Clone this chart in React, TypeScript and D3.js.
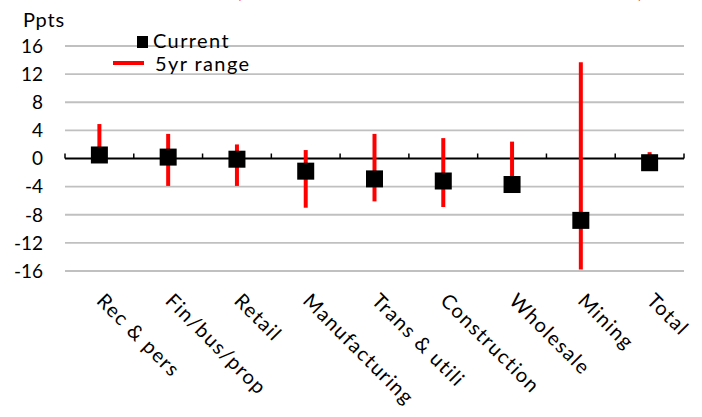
import React from "react";
import * as d3 from "d3";

const categories = ["Rec & pers", "Fin/bus/prop", "Retail", "Manufacturing", "Trans & utili", "Construction", "Wholesale", "Mining", "Total"];
const current = [0.5, 0.2, -0.1, -1.8, -2.9, -3.2, -3.7, -8.8, -0.6];
const rangeMax = [4.9, 3.5, 2.0, 1.2, 3.5, 2.9, 2.4, 13.7, 0.9];
const rangeMin = [0.0, -3.9, -3.9, -7.0, -6.1, -6.9, -4.5, -15.8, -1.0];
const yTicks = [16, 12, 8, 4, 0, -4, -8, -12, -16];

const W = 702, H = 417;
const FONT = "Lato, 'Open Sans', sans-serif";

export default function App() {
  const x = d3.scaleBand<string>().domain(categories).range([65, 684]);
  const y = d3.scaleLinear().domain([-16, 16]).range([271, 46]);
  const y0 = y(0);
  const bw = x.bandwidth();
  const sq = 17;
  const bounds = categories.map((c) => x(c) as number).concat([684]);
  return (
    <svg width={W} height={H} style={{ position: "absolute", left: 0, top: 0, background: "#fff" }}>
      <text x={236} y={-2} fill="#ff0000" fontFamily={FONT} fontSize={20}>(</text>
      <text x={638} y={-2} fill="#ff0000" fontFamily={FONT} fontSize={20}>)</text>
      <text x={23} y={27} fontFamily={FONT} fontSize={20} letterSpacing={0.8} fill="#000">Ppts</text>
      {yTicks.filter((t) => t !== 0).map((t) => (
        <line key={t} x1={65} x2={684} y1={y(t)} y2={y(t)} stroke="#c0c0c0" strokeWidth={1.8} />
      ))}
      {yTicks.map((t) => (
        <text key={"l" + t} x={43} y={y(t)} dy="0.36em" textAnchor="end" fontFamily={FONT} fontSize={19} fill="#000">{t}</text>
      ))}
      <line x1={65} x2={684} y1={y0} y2={y0} stroke="#000" strokeWidth={2} />
      {bounds.map((b, i) => (
        <line key={"t" + i} x1={b} x2={b} y1={y0} y2={y0 - 5} stroke="#000" strokeWidth={1.5} />
      ))}
      {categories.map((c, i) => {
        const cx = (x(c) as number) + bw / 2;
        return (
          <line key={"r" + c} x1={cx} x2={cx} y1={y(rangeMax[i])} y2={y(rangeMin[i])} stroke="#ff0000" strokeWidth={4} />
        );
      })}
      {categories.map((c, i) => {
        const cx = (x(c) as number) + bw / 2;
        return <rect key={"s" + c} x={cx - sq / 2} y={y(current[i]) - sq / 2} width={sq} height={sq} fill="#000" />;
      })}
      {categories.map((c) => {
        const cx = (x(c) as number) + bw / 2;
        const px = cx - 4, py = 302;
        return (
          <text key={"c" + c} x={px} y={py} transform={`rotate(45 ${px} ${py})`} fontFamily={FONT} fontSize={20} letterSpacing={1.4} fill="#000">{c}</text>
        );
      })}
      <rect x={137} y={36} width={11} height={12} fill="#000" />
      <text x={153} y={48} fontFamily={FONT} fontSize={20} letterSpacing={1.4} fill="#000">Current</text>
      <line x1={113} x2={144} y1={63} y2={63} stroke="#ff0000" strokeWidth={4} />
      <text x={155} y={71} fontFamily={FONT} fontSize={20} letterSpacing={1.4} fill="#000">5yr range</text>
    </svg>
  );
}
